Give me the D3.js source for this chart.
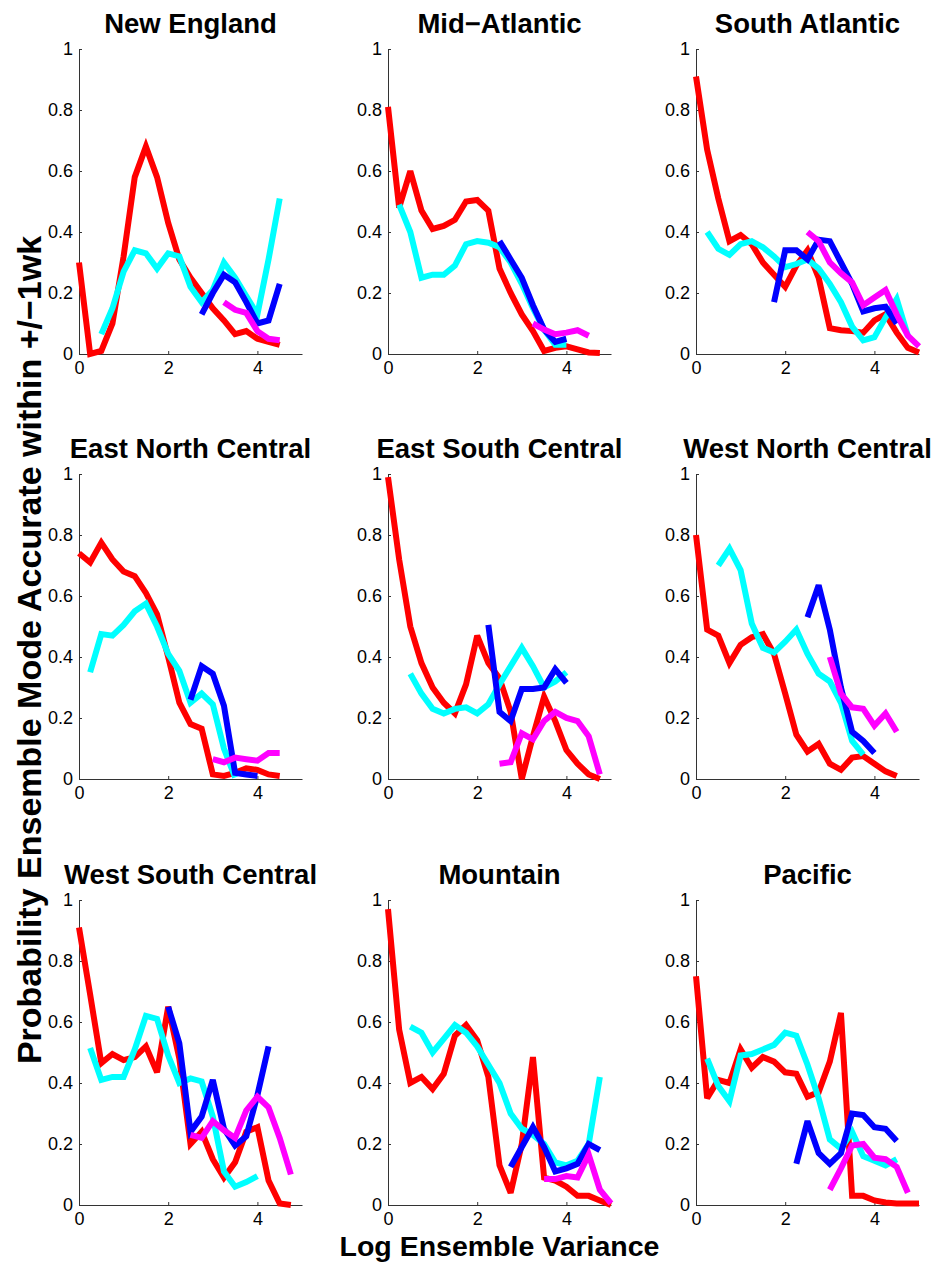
<!DOCTYPE html>
<html>
<head>
<meta charset="utf-8">
<script src="https://cdn.jsdelivr.net/npm/d3@7"></script>
<style>
  body { margin: 0; background: #fff; }
  svg { display: block; font-family: "Liberation Sans", Arial, Helvetica, sans-serif; }
  .axis path, .axis line { stroke: #333; stroke-width: 1; }
  .axis text { font-size: 18px; fill: #000; }
  .panel-title { font-size: 27.5px; font-weight: bold; }
  .big-label { font-size: 28.5px; font-weight: bold; }
</style>
</head>
<body>
<svg width="945" height="1267"></svg>
<script>
//  Region names, in panel order (row by row)
const regions = ['New England', 'Mid\u2212Atlantic', 'South Atlantic',
                 'East North Central', 'East South Central', 'West North Central',
                 'West South Central', 'Mountain', 'Pacific'];

const xStep = 0.25;
const xTicks = [0, 2, 4];
const yTicks = [0, 0.2, 0.4, 0.6, 0.8, 1];

//  Red series : first x value and values per region
const redStart = [0, 0, 0, 0, 0, 0, 0, 0, 0];
const redValues = [
    [0.30,0.0,0.01,0.10,0.32,0.58,0.68,0.58,0.43,0.31,0.25,0.20,0.15,0.11,0.065,0.075,0.05,0.04,0.03],
    [0.81,0.48,0.60,0.47,0.41,0.42,0.44,0.50,0.505,0.47,0.28,0.20,0.13,0.075,0.01,0.02,0.025,0.015,0.005,0.003],
    [0.91,0.67,0.51,0.37,0.39,0.36,0.30,0.26,0.22,0.29,0.34,0.25,0.085,0.078,0.075,0.07,0.11,0.13,0.07,0.02,0.005],
    [0.74,0.71,0.775,0.72,0.68,0.665,0.61,0.54,0.40,0.25,0.18,0.165,0.015,0.01,0.02,0.035,0.03,0.015,0.01],
    [0.99,0.72,0.50,0.38,0.30,0.25,0.215,0.31,0.47,0.38,0.33,0.22,0.0,0.14,0.27,0.19,0.095,0.05,0.015,0.0],
    [0.80,0.49,0.47,0.38,0.44,0.465,0.475,0.41,0.28,0.145,0.09,0.115,0.05,0.03,0.07,0.075,0.05,0.025,0.01],
    [0.91,0.69,0.465,0.495,0.475,0.485,0.52,0.435,0.65,0.48,0.20,0.24,0.15,0.09,0.14,0.24,0.255,0.08,0.005,0.0],
    [0.97,0.575,0.40,0.42,0.38,0.43,0.555,0.59,0.54,0.42,0.13,0.04,0.20,0.485,0.09,0.08,0.06,0.03,0.03,0.015,0.0],
    [0.75,0.35,0.41,0.40,0.51,0.45,0.485,0.47,0.435,0.43,0.355,0.37,0.47,0.63,0.03,0.03,0.015,0.008,0.005,0.005,0.005]
];

//  Cyan series
const cyanStart = [0.5, 0.25, 0.25, 0.25, 0.5, 0.5, 0.25, 0.5, 0.25];
const cyanValues = [
    [0.065,0.15,0.27,0.34,0.33,0.28,0.33,0.32,0.22,0.17,0.21,0.30,0.25,0.19,0.13,0.31,0.51],
    [0.49,0.40,0.25,0.26,0.26,0.29,0.36,0.37,0.365,0.35,0.30,0.23,0.15,0.08,0.03,0.03],
    [0.40,0.345,0.325,0.36,0.37,0.35,0.32,0.285,0.295,0.31,0.28,0.23,0.17,0.09,0.045,0.055,0.12,0.18,0.06],
    [0.35,0.475,0.47,0.505,0.55,0.575,0.50,0.41,0.355,0.25,0.28,0.245,0.10,0.005],
    [0.345,0.28,0.23,0.215,0.23,0.235,0.215,0.245,0.31,0.37,0.43,0.37,0.30,0.32,0.35],
    [0.70,0.755,0.685,0.51,0.43,0.415,0.45,0.49,0.41,0.345,0.32,0.25,0.125,0.08],
    [0.515,0.41,0.42,0.42,0.51,0.62,0.61,0.49,0.40,0.415,0.405,0.29,0.11,0.06,0.075,0.095],
    [0.585,0.565,0.50,0.545,0.59,0.565,0.52,0.46,0.40,0.30,0.25,0.23,0.20,0.14,0.13,0.145,0.20,0.42],
    [0.48,0.39,0.34,0.49,0.495,0.51,0.525,0.565,0.555,0.46,0.35,0.215,0.185,0.24,0.16,0.145,0.13,0.15]
];

//  Blue series
const blueStart = [2.75, 2.5, 1.75, 2.5, 2.25, 2.5, 2.0, 2.75, 2.25];
const blueValues = [
    [0.13,0.20,0.26,0.235,0.17,0.10,0.11,0.23],
    [0.37,0.31,0.25,0.16,0.08,0.04,0.05],
    [0.17,0.34,0.34,0.31,0.375,0.37,0.30,0.23,0.14,0.15,0.155,0.10],
    [0.26,0.37,0.345,0.24,0.02,0.015,0.01],
    [0.505,0.22,0.19,0.295,0.295,0.30,0.36,0.315],
    [0.53,0.635,0.49,0.30,0.155,0.125,0.085],
    [0.65,0.53,0.24,0.29,0.41,0.25,0.195,0.225,0.36,0.52],
    [0.125,0.19,0.255,0.19,0.11,0.12,0.135,0.20,0.18],
    [0.135,0.275,0.17,0.135,0.17,0.30,0.295,0.255,0.25,0.21]
];

//  Magenta series
const magentaStart = [3.25, 3.25, 2.5, 3.0, 2.5, 3.0, 2.5, 3.5, 3.0];
const magentaValues = [
    [0.17,0.145,0.135,0.075,0.05,0.045],
    [0.10,0.08,0.065,0.07,0.078,0.06],
    [0.40,0.37,0.30,0.265,0.235,0.16,0.185,0.21,0.13,0.06,0.025],
    [0.065,0.055,0.07,0.065,0.06,0.085,0.085],
    [0.05,0.055,0.15,0.13,0.19,0.22,0.20,0.19,0.14,0.015],
    [0.40,0.28,0.235,0.23,0.175,0.215,0.155],
    [0.23,0.22,0.275,0.245,0.22,0.31,0.355,0.32,0.22,0.10],
    [0.085,0.085,0.095,0.09,0.165,0.05,0.005],
    [0.05,0.12,0.195,0.20,0.155,0.15,0.125,0.04]
];


const series = [
    { color: '#ff0000', start: redStart, values: redValues },
    { color: '#00ffff', start: cyanStart, values: cyanValues },
    { color: '#0000ff', start: blueStart, values: blueValues },
    { color: '#ff00ff', start: magentaStart, values: magentaValues }
];

//  Layout
const svg = d3.select('svg');
svg.append('rect').attr('width', 945).attr('height', 1267).attr('fill', '#fff');

const colLeft = [79, 388, 696];
const rowTop = [49, 474, 900];
const panelW = 223;
const panelH = 305;

regions.forEach((name, k) => {
    const left = colLeft[k % 3];
    const top = rowTop[Math.floor(k / 3)];

    const x = d3.scaleLinear().domain([0, 5]).range([left, left + panelW]);
    const y = d3.scaleLinear().domain([0, 1]).range([top + panelH, top]);

    const g = svg.append('g');

    //  axes (MATLAB style, ticks pointing in)
    g.append('g')
        .attr('class', 'axis')
        .attr('transform', `translate(0, ${top + panelH})`)
        .call(d3.axisBottom(x).tickValues(xTicks).tickFormat(d3.format('~g'))
            .tickSizeInner(-3).tickSizeOuter(0).tickPadding(5))
        .call(a => a.selectAll('text').attr('dy', '0.85em'));

    g.append('g')
        .attr('class', 'axis')
        .attr('transform', `translate(${left}, 0)`)
        .call(d3.axisLeft(y).tickValues(yTicks).tickFormat(d3.format('~g'))
            .tickSizeInner(-3).tickSizeOuter(0).tickPadding(6));

    g.selectAll('.axis .domain').attr('fill', 'none');

    //  lines
    series.forEach(s => {
        const start = s.start[k];
        const line = d3.line()
            .x((v, i) => x(start + i * xStep))
            .y(v => y(v));
        g.append('path')
            .attr('d', line(s.values[k]))
            .attr('fill', 'none')
            .attr('stroke', s.color)
            .attr('stroke-width', 6)
            .attr('stroke-linejoin', 'miter')
            .attr('stroke-miterlimit', 3);
    });

    //  title
    g.append('text')
        .attr('class', 'panel-title')
        .attr('text-anchor', 'middle')
        .attr('x', left + panelW / 2)
        .attr('y', top - 16.5)
        .text(name);
});

//  shared axis labels
svg.append('text')
    .attr('class', 'big-label')
    .attr('text-anchor', 'middle')
    .attr('x', colLeft[1] + panelW / 2)
    .attr('y', 1256)
    .text('Log Ensemble Variance');

svg.append('text')
    .attr('class', 'big-label')
    .style('font-size', '34px')
    .attr('text-anchor', 'middle')
    .attr('transform', 'translate(41, 650) rotate(-90)')
    .text('Probability Ensemble Mode Accurate within +/\u22121wk');
</script>
</body>
</html>
